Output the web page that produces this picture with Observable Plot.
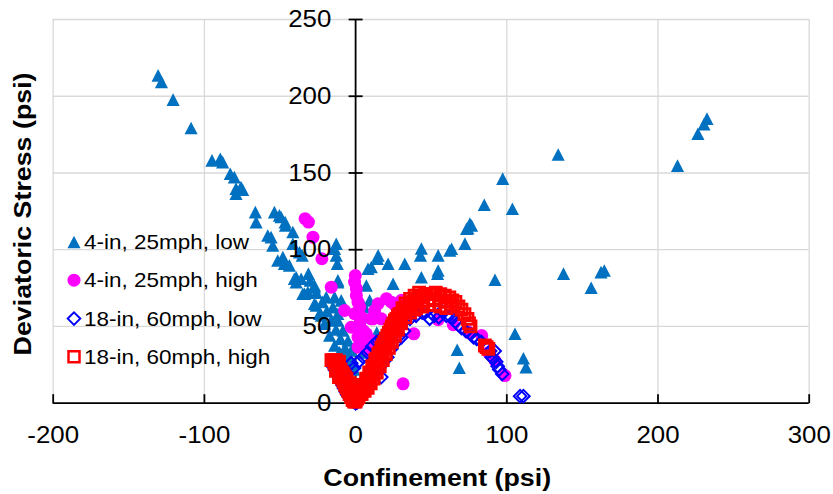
<!DOCTYPE html>
<html>
<head>
<meta charset="utf-8">
<script src="https://cdn.jsdelivr.net/npm/d3@7"></script>
<script src="https://cdn.jsdelivr.net/npm/@observablehq/plot@0.6"></script>
<style>
  html, body { margin: 0; padding: 0; background: #fff; }
  #chart { width: 833px; height: 494px; }
</style>
</head>
<body>
<div id="chart"></div>
<script>
// ---------- data ----------
const seriesNames = ["4-in, 25mph, low", "4-in, 25mph, high", "18-in, 60mph, low", "18-in, 60mph, high"];
const xTitle = "Confinement (psi)";
const yTitle = "Deviatoric Stress (psi)";
const xTicks = [-200, -100, 0, 100, 200, 300];
const yTicks = [0, 50, 100, 150, 200, 250];

// 4-in, 25mph, low  (confinement, deviatoric stress)
const lowTri4 = [
  [-130.6,213.6],[-128.4,209.3],[-120.7,197.8],[-108.8,179.3],[-95,158.2],[-89.5,159.3],[-87.9,157.1],
  [-82.9,149.5],[-80.2,147.3],[-79.1,139.8],[-75.8,140.8],[-79.1,136.5],[-74.7,139.1],[-66.3,124.5],
  [-65.8,118],[-53.7,124.5],[-50.4,122.4],[-49.3,121.3],[-46.6,118],[-46.4,115.8],[-58.1,109.3],
  [-55.9,108.2],[-41.5,111.5],[-41.5,103.9],[-54.8,102.8],[-48.1,95.2],[-51.5,93],[-47.1,90.9],
  [-43.8,89.8],[-40.5,81.1],[-39.3,82.1],[-36,81.1],[-31.2,84.4],[-37.1,98.4],[-35.3,96.3],
  [-12.8,103.9],[-13.9,100.6],[-12.8,96.3],[-12.1,90.9],[-11.7,80],[-11.7,78.9],[-27.2,75.6],
  [-39.3,78.9],[-34.9,71.3],[-31.6,72.4],[-33.8,71.3],[-27.2,64.8],[-26.1,63.7],[-23.9,58.3],
  [-22.7,57.2],[-20.6,51.8],[-17.2,44.1],[-13.9,37.6],[-10.6,33.2],[-7.3,28.9],[-4,25.7],
  [-11.7,53.9],[-8.4,47.4],[-5,40.9],[-2.9,34.3],[-27.2,76.7],[-19.4,69.1],[-15,62.6],[-11.7,58.3],
  [-13.9,69.1],[-9.5,67],[-30,80],[-26,72],[-22,66],[-19,60],[-16,54],[-13,48],[-10,42],[-7,36],
  [-4,30],[-2,26],[-1,22],
  [7.1,76.7],[9.3,67],[8.2,87.6],[10.4,88.7],[14.4,94.1],[14.9,96.3],[21.5,90.9],[24.8,77.8],
  [32.5,90.9],[42.9,96.3],[43.5,82.1],[43.5,100.8],[54.6,96.3],[54.6,86.5],[54.2,84.4],[62.3,99.5],
  [63.5,100.6],[72.3,104],[73.4,113.7],[74.3,114.1],[75.6,117],[76.7,115.8],[85.1,129.3],
  [97.3,146.3],[103.7,126.7],[92.2,80.4],[105.4,45.2],[111,29.3],[112.7,23.5],[67.2,34.8],
  [68.6,23.1],[134,162],[137.5,84.4],[155.8,75.2],[162.3,85.4],[164.5,86.5],[212.9,154.8],
  [226.4,175.6],[230.4,181.7],[232.4,185.4],[5.9,62.6],[3,50],[4,56],[6,33],[10,40],[14,46]
];

// 4-in, 25mph, high
const highCirc4 = [
  [-33.4,120.2],[-31.2,118],[-28.2,108.2],[-22.3,94.1],[-16.1,75.6],[-0.2,83.2],[-0.7,78.9],
  [0.5,74.6],[0.5,70.2],[1.6,65.8],[2.7,62.6],[3.8,56.1],[-7.3,60.4],[-2.9,49.5],[-0.7,58.3],
  [2.7,51.8],[10.4,55],[11.5,55],[17,55],[12.6,60.4],[14.9,64.8],[20.4,68.1],[23.7,65.8],[30.3,67],
  [1.6,43],[4.9,47.4],[7.1,45.2],[10.4,40.9],[3.8,39.8],[1.6,36.5],[8.2,34.4],[17,30],[31.4,12.6],
  [38.5,45.2],[54.6,54.4],[64.6,51.1],[75,46],[83.4,44.1],[88,33],[92.2,27.8],[98.8,18],[26,64],[36,63]
];

// 18-in, 60mph, low
const lowDia18 = [
  [-14.5,23.5],[-13.5,21.5],[-12.5,19.5],[-11.5,17.5],[-10.5,15.5],[-9.5,13.5],[-8.5,11.5],[-7.5,9.5],
  [-6.5,7.5],[-5.5,5.5],[-4,3.5],[-3,2],[-1.5,1],[0,0],[1,0.5],
  [2,3],[3,6],[4,9],[6,11],[8,14],[10,16],[12,19],[14,21],[15.9,23.5],[17,17],[19.2,27.8],[21,30],
  [23.7,35.5],[26,39],[29.2,44.1],[30.3,43],[32,47],
  [-1,23],[-2.9,26],[2,27],[5,30],[8,33],[11,37],[14,40],[17,42],[20,44],[24,47],[28,50],[32,53],
  [36,55],[40,57],[44,59],[46,59],
  [49,55],[52,57],[55,56],[57,60],[60,57],[63,56],[66,53],[68,51],[70,49],[73,47],[76,45],[78,43],
  [80,42],[83,40],[86,37],[89,34],[92,34],[90,30],[91,29],[93,27],[94,24],[95,22],[97,19],
  [108.8,4.6],[111,4.6]
];

// 18-in, 60mph, high
const highSq18 = [
  [-16,28],[-15,28],[-13,28],[-14,26],[-13,24],[-12,22],[-11,20],[-10,18],[-9,16],[-8,14],[-7,12],
  [-6,10],[-5,8],[-4,6],[-3,4],[-2,2],[-1,1],
  [-14,27],[-12,25],[-10,22],[-8,19],[-6,16],[-4,13],[-3,10],[-2,7],[-1,4],[0,2],
  [-13,27],[-11,27],[-13,21],[-11,22],[-11,17],[-9,20],[-7,17],[-6,14],[-4,11],[-3,8],[-2,6],
  [0,1],[1,3],[2,4],[3,6],[4,8],[5,10],[6,11],[7,13],[8,13],[9,15],[10,17],[11,19],[12,22],[13,24],
  [14,26],[15,28],[16,30],[17,32],[18,35],[19,37],[20,39],[21,41],[22,43],[23,45],[24,47],[25,49],
  [26,50],[27,52],[28,53],[29,55],[30,57],[31,59],[32,60],[34,62],[35,63],[37,65],[38,66],[40,67],
  [41,68],[43,69],[44,70],[46,71],[47,71],[50,71],
  [6,8],[8,10],[10,13],[12,16],[14,20],[16,24],[18,28],[20,32],[22,36],[24,40],[26,44],[28,48],
  [30,52],[33,56],[36,59],[39,61],
  [3,9],[5,12],[7,16],[9,20],[11,24],[13,28],[15,32],[17,36],[19,40],[21,44],[23,48],[25,52],[27,55],
  [29,58],[31,62],[33,65],[36,68],[39,70],[42,72],
  [4,6],[6,10],[8,15],[10,19],[12,24],[14,29],[16,33],[18,38],[20,42],[22,46],[24,50],[26,54],[28,57],
  [40,62],[44,63],[48,64],[52,64],[56,63],[60,62],[44,66],[48,67],[52,68],[56,67],[60,66],[63,64],
  [53,72],[56,71],[59,70],[62,69],[64,67],[66,66],[68,63],[70,61],[72,58],[74,55],[75,52],[76,50],
  [85.5,37.6],[86.7,36.5],[87.8,35.4]
];

// ---------- styling ----------
const FONT = "'Liberation Sans', Arial, Helvetica, sans-serif";
const colors = ["#0070C0", "#FF00FF", "#0000FF", "#FF0000"];

const diamondSym = { draw(ctx, size) { const r = Math.sqrt(size / 2); ctx.moveTo(0, -r); ctx.lineTo(r, 0); ctx.lineTo(0, r); ctx.lineTo(-r, 0); ctx.closePath(); } };
const triangleSym = { draw(ctx, size) { const w = Math.sqrt(size) * 0.74, h = w * 0.96; ctx.moveTo(0, -h / 2); ctx.lineTo(w / 2, h / 2); ctx.lineTo(-w / 2, h / 2); ctx.closePath(); } };
const yTickSym = { draw(ctx) { ctx.moveTo(-7, 0); ctx.lineTo(7, 0); } };
const xTickSym = { draw(ctx) { ctx.moveTo(0, 0); ctx.lineTo(0, -9); } };

const px = d => d[0], py = d => d[1];

const svg = Plot.plot({
  width: 833,
  height: 494,
  marginTop: 19,
  marginBottom: 91.3,
  marginLeft: 52.7,
  marginRight: 24.3,
  style: { fontFamily: FONT, background: "#fff", overflow: "visible" },
  x: { domain: [-200, 300], axis: null },
  y: { domain: [0, 250], axis: null },
  marks: [
    Plot.ruleX(xTicks.filter(d => d !== 0), { x: d => d, stroke: "#d9d9d9", strokeWidth: 1.3 }),
    Plot.ruleY(yTicks.filter(d => d !== 0), { y: d => d, stroke: "#d9d9d9", strokeWidth: 1.3 }),
    Plot.ruleY([0], { y: d => d, stroke: "#000", strokeWidth: 1.8 }),
    Plot.ruleX([0], { x: d => d, stroke: "#000", strokeWidth: 1.8 }),
    Plot.dot(xTicks, { x: d => d, y: () => 0, symbol: xTickSym, fill: "none", stroke: "#000", strokeWidth: 1.8 }),
    Plot.dot(yTicks, { x: () => 0, y: d => d, symbol: yTickSym, fill: "none", stroke: "#000", strokeWidth: 1.8 }),

    Plot.dot(lowTri4, { x: px, y: py, symbol: triangleSym, r: 10, fill: colors[0], stroke: "none" }),
    Plot.dot(highCirc4, { x: px, y: py, symbol: "circle", r: 6.5, fill: colors[1], stroke: "none" }),
    Plot.dot(lowDia18, { x: px, y: py, symbol: diamondSym, r: 5, fill: "none", stroke: colors[2], strokeWidth: 2 }),
    Plot.dot(highSq18, { x: px, y: py, symbol: "square", r: 6.2, fill: "none", stroke: colors[3], strokeWidth: 2.8 }),

    Plot.text(xTicks, { x: d => d, frameAnchor: "bottom", text: d => String(d), textAnchor: "middle", dy: 23.6, lineAnchor: "top", fontSize: 23.5, fill: "#000", className: "xtl" }),
    Plot.text(yTicks, { x: () => 0, y: d => d, text: d => String(d), textAnchor: "end", lineAnchor: "middle", dx: -24.3, fontSize: 23.5, fill: "#000", className: "ytl" }),
    Plot.text([xTitle], { frameAnchor: "bottom", text: d => d, textAnchor: "middle", lineAnchor: "middle", dx: 6, dy: 75.3, fontSize: 23.5, fontWeight: "bold", fill: "#000", className: "xtt" }),
    Plot.text([yTitle], { frameAnchor: "left", text: d => d, textAnchor: "middle", lineAnchor: "middle", rotate: -90, dx: -29.4, dy: 2.6, fontSize: 23.5, fontWeight: "bold", fill: "#000", className: "ytt" })
  ]
});

document.getElementById("chart").appendChild(svg);

// ---------- legend (inside plot area, upper-left) ----------
const lg = d3.select(svg).append("g").attr("aria-label", "legend").attr("font-family", FONT).attr("font-size", 21).attr("text-anchor", "start");
const rowY = [242, 280.2, 318.6, 356.8];
const symX = 74;
lg.append("path").attr("transform", `translate(${symX},${rowY[0]})`).attr("d", d3.symbol(triangleSym, Math.PI * 100)()).attr("fill", colors[0]);
lg.append("circle").attr("cx", symX).attr("cy", rowY[1]).attr("r", 6.5).attr("fill", colors[1]);
lg.append("path").attr("transform", `translate(${symX},${rowY[2]})`).attr("d", d3.symbol(diamondSym, Math.PI * 25)()).attr("fill", "none").attr("stroke", colors[2]).attr("stroke-width", 2);
lg.append("path").attr("transform", `translate(${symX},${rowY[3]})`).attr("d", d3.symbol(d3.symbolSquare, Math.PI * 6.2 * 6.2)()).attr("fill", "none").attr("stroke", colors[3]).attr("stroke-width", 2.5);
seriesNames.forEach((name, i) => {
  lg.append("text").attr("class", "legtext").attr("x", 84).attr("y", rowY[i] + 7.2).attr("fill", "#000").text(name);
});

// ---------- horizontal text stretch to mimic the reference's wide text rendering ----------
function findTexts(cls) {
  return Array.from(svg.querySelectorAll(`.${cls} text, text.${cls}`));
}
function stretch(nodes, f) {
  nodes.forEach(t => {
    const len = t.getComputedTextLength();
    if (len > 0) {
      t.setAttribute("textLength", (len * f).toFixed(2));
      t.setAttribute("lengthAdjust", "spacingAndGlyphs");
    }
  });
}
stretch(findTexts("xtl"), 1.1);
stretch(findTexts("ytl"), 1.1);
stretch(findTexts("xtt"), 1.14);
stretch(findTexts("ytt"), 1.14);
stretch(Array.from(svg.querySelectorAll("text.legtext")), 1.07);
</script>
</body>
</html>
